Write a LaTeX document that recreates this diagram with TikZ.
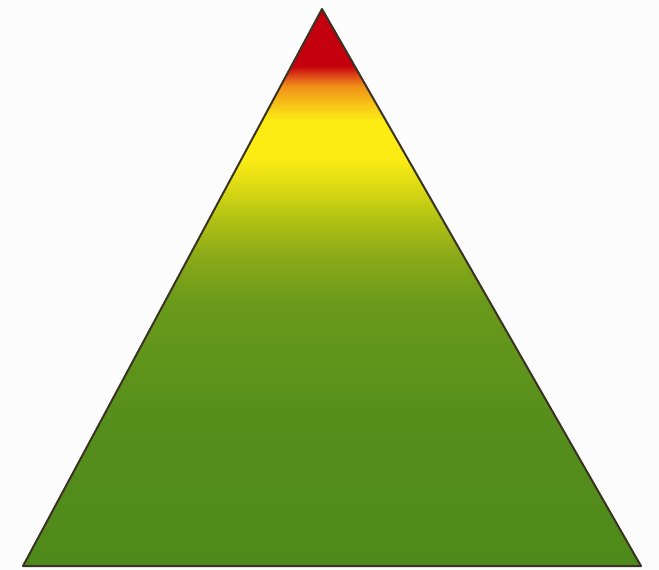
\documentclass[tikz,border=0pt]{standalone}
\definecolor{toprd}{HTML}{C4000E}
\definecolor{midrd}{HTML}{E04A18}
\definecolor{orng}{HTML}{F09018}
\definecolor{ambr}{HTML}{F8C818}
\definecolor{yelw}{HTML}{FCEC14}
\definecolor{lemon}{HTML}{DCDA14}
\definecolor{lime}{HTML}{B4C414}
\definecolor{olive}{HTML}{8CAA18}
\definecolor{grnA}{HTML}{6A9A1A}
\definecolor{grnB}{HTML}{568E1C}
\definecolor{grnC}{HTML}{4E8A1A}
\definecolor{rimcol}{HTML}{3A3222}
\definecolor{paper}{HTML}{FCFCFC}

% bounding box of the path maps onto 25bp..75bp
\pgfdeclareverticalshading{pyramidfade}{100bp}{%
  color(0bp)=(grnC); color(25bp)=(grnC);
  color(38bp)=(grnB); color(48.8bp)=(grnA);
  color(52.9bp)=(olive); color(56.4bp)=(lime);
  color(59.1bp)=(lemon); color(61.6bp)=(yelw);
  color(65bp)=(yelw); color(66.3bp)=(ambr);
  color(68.1bp)=(orng); color(69bp)=(midrd);
  color(69.9bp)=(toprd);
  color(75bp)=(toprd); color(100bp)=(toprd)}

\begin{document}
\begin{tikzpicture}[
  x=1pt,
  y=-1pt,
  line join=round,
  rim/.style={draw=rimcol,line width=2pt},
  fade/.style={shading=pyramidfade}
]
  % Canvas.
  \fill[paper] (0,0) rectangle (659,570);
  \useasboundingbox (0,0) rectangle (659,570);

  % Corners of the pyramid.
  \coordinate (apex) at (322,9);
  \coordinate (left) at (23,566);
  \coordinate (right) at (641,566);

  % Shaded body and outline.
  \shade[fade] (apex) -- (right) -- (left) -- cycle;
  \draw[rim] (apex) -- (right) -- (left) -- cycle;
\end{tikzpicture}
\end{document}
